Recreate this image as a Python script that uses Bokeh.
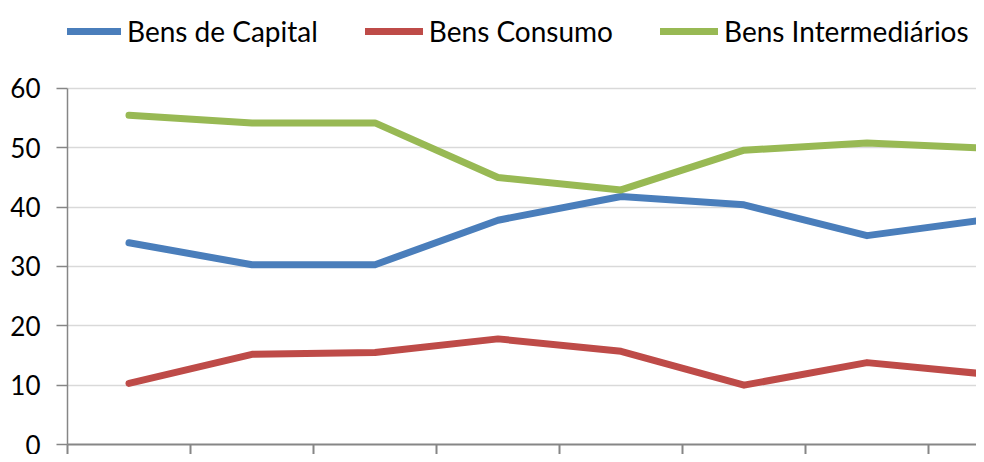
from bokeh.plotting import figure
from bokeh.models import Legend, LegendItem, FixedTicker, Range1d
from bokeh.embed import file_html
from bokeh.resources import INLINE

# ---- data ----
periods = [0, 1, 2, 3, 4, 5, 6, 7]          # category positions (no labels shown)
bens_capital = [34.0, 30.3, 30.3, 37.8, 41.8, 40.4, 35.2, 38.0]
bens_consumo = [10.3, 15.2, 15.5, 17.8, 15.7, 10.0, 13.8, 11.8]
bens_intermediarios = [55.5, 54.2, 54.2, 45.0, 42.9, 49.6, 50.8, 49.9]
series_names = ["Bens de Capital", "Bens Consumo", "Bens Intermediários"]
series_colors = ["#4a7ebb", "#be4b48", "#98b954"]
y_ticks = [0, 10, 20, 30, 40, 50, 60]

FONT = "Lato"

# frame spans the whole height; the legend sits in the headroom above 60
p = figure(width=976, height=454, output_backend="svg", toolbar_location=None,
           x_range=Range1d(-0.5, 6.89), y_range=Range1d(0, 74.83),
           min_border_left=67, min_border_right=0, min_border_top=0,
           min_border_bottom=10)
p.outline_line_color = None
p.background_fill_color = "white"

renderers = []
for vals, color in zip([bens_capital, bens_consumo, bens_intermediarios], series_colors):
    r = p.line(periods, vals, line_color=color, line_width=7, line_join="round",
               line_cap="round")
    renderers.append(r)

# y axis
p.yaxis.ticker = FixedTicker(ticks=y_ticks)
p.yaxis.bounds = (0, 60)
p.yaxis.axis_line_color = "#868686"
p.yaxis.axis_line_width = 1.5
p.yaxis.major_tick_line_color = "#868686"
p.yaxis.major_tick_line_width = 1.5
p.yaxis.major_tick_out = 11
p.yaxis.major_tick_in = 0
p.yaxis.minor_tick_line_color = None
p.yaxis.major_label_standoff = 16
p.yaxis.major_label_text_font = FONT
p.yaxis.major_label_text_font_size = "26px"
p.yaxis.major_label_text_color = "black"

# x axis
bounds = [i - 0.5 for i in periods]
p.xaxis.ticker = FixedTicker(ticks=bounds)
p.xaxis.major_label_overrides = {b: "" for b in bounds}
p.xaxis.axis_line_color = "#868686"
p.xaxis.axis_line_width = 2
p.xaxis.major_tick_line_color = "#868686"
p.xaxis.major_tick_line_width = 2
p.xaxis.major_tick_out = 10
p.xaxis.major_tick_in = 0
p.xaxis.minor_tick_line_color = None
p.xaxis.major_label_standoff = 0

p.xgrid.grid_line_color = None
p.ygrid.ticker = FixedTicker(ticks=y_ticks)
p.ygrid.grid_line_color = "#d9d9d9"
p.ygrid.grid_line_width = 1.5

items = [LegendItem(label=n, renderers=[r]) for n, r in zip(series_names, renderers)]
legend = Legend(items=items, orientation="horizontal", location=(-4, 396),
                label_text_font=FONT, label_text_font_size="28px",
                label_text_color="black", glyph_width=58, glyph_height=30,
                label_standoff=6, spacing=47, padding=0, margin=0,
                border_line_color=None, background_fill_alpha=0)
p.add_layout(legend)

open("out.html", "w").write(file_html(p, INLINE))
